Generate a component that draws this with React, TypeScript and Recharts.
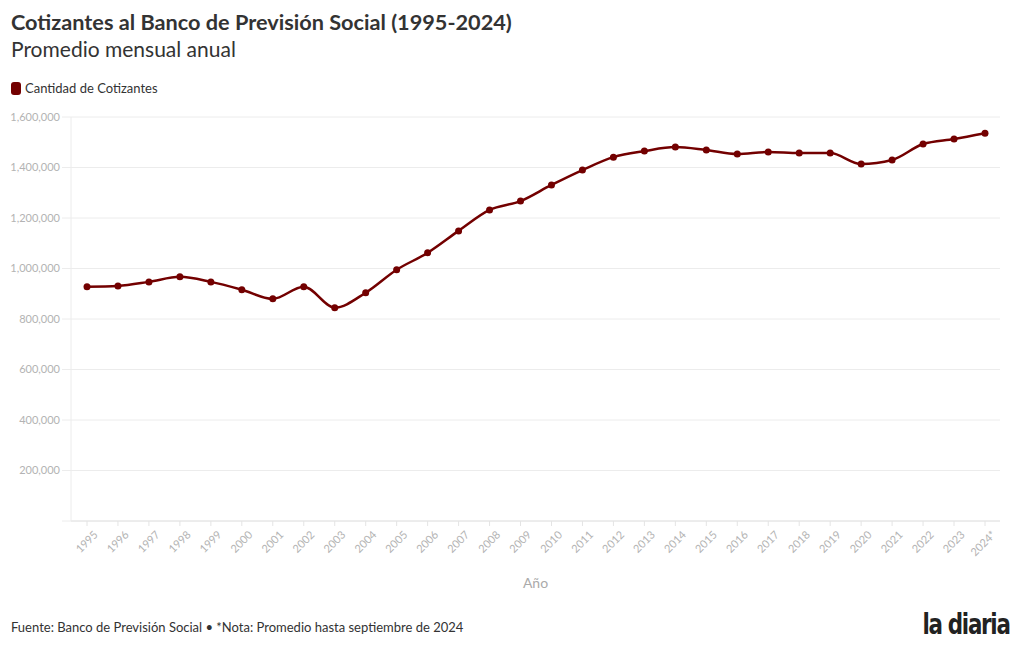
import { LineChart, Line, XAxis, YAxis, CartesianGrid } from 'recharts'

const YEARS = [
  '1995', '1996', '1997', '1998', '1999', '2000', '2001', '2002', '2003', '2004',
  '2005', '2006', '2007', '2008', '2009', '2010', '2011', '2012', '2013', '2014',
  '2015', '2016', '2017', '2018', '2019', '2020', '2021', '2022', '2023', '2024*',
]

// promedio mensual de cotizantes
const COTIZANTES = [
  928000, 931000, 947000, 967000, 947000, 916000, 880000, 928000, 845000, 904000,
  995000, 1062000, 1149000, 1232000, 1267000, 1331000, 1390000, 1441000, 1465000, 1481000,
  1469000, 1453000, 1461000, 1457000, 1457000, 1414000, 1430000, 1493000, 1513000, 1536000,
]

const Y_TICKS = [0, 200000, 400000, 600000, 800000, 1000000, 1200000, 1400000, 1600000]

const RED = '#730000'
const FONT = 'Lato, "Open Sans", sans-serif'

const data = YEARS.map((year, i) => ({ year, cotizantes: COTIZANTES[i] }))

export default function App() {
  return (
    <div
      style={{
        position: 'absolute',
        top: 0,
        left: 0,
        width: 1020,
        height: 650,
        background: '#fff',
        fontFamily: FONT,
        color: '#333',
      }}
    >
      <div style={{ position: 'absolute', left: 11, top: 9, fontSize: 21.7, fontWeight: 700, color: '#333' }}>
        Cotizantes al Banco de Previsión Social (1995-2024)
      </div>
      <div style={{ position: 'absolute', left: 11, top: 36, fontSize: 21, color: '#333' }}>
        Promedio mensual anual
      </div>

      {/* legend */}
      <div style={{ position: 'absolute', left: 11, top: 80, display: 'flex', alignItems: 'center', gap: 4 }}>
        <span style={{ width: 10, height: 13, background: RED, borderRadius: 3, display: 'inline-block' }} />
        <span style={{ fontSize: 13, color: '#333' }}>Cantidad de Cotizantes</span>
      </div>

      <div style={{ position: 'absolute', left: 0, top: 100 }}>
        <LineChart
          width={1020}
          height={500}
          data={data}
          margin={{ top: 17, right: 20, left: 0, bottom: 0 }}
        >
          <CartesianGrid stroke="#ececec" vertical={false} />
          <XAxis
            dataKey="year"
            padding={{ left: 16, right: 15 }}
            interval={0}
            height={79}
            angle={-45}
            textAnchor="end"
            tick={{ fill: '#b3b3b3', fontSize: 11, fontFamily: FONT, dx: 6, dy: 2 }}
            tickSize={5}
            tickLine={{ stroke: '#e4e4e4' }}
            axisLine={{ stroke: '#e4e4e4' }}
            label={{ value: 'Año', position: 'insideBottom', offset: 12, fill: '#aaa', fontSize: 14, fontFamily: FONT }}
          />
          <YAxis
            domain={[0, 1600000]}
            ticks={Y_TICKS}
            width={71}
            tick={{ fill: '#b3b3b3', fontSize: 11, fontFamily: FONT }}
            tickFormatter={(v) => (v === 0 ? '' : Number(v).toLocaleString('en-US'))}
            tickSize={9}
            tickLine={{ stroke: '#ececec' }}
            axisLine={{ stroke: '#ececec' }}
          />
          <Line
            type="monotone"
            dataKey="cotizantes"
            stroke={RED}
            strokeWidth={2.5}
            dot={{ r: 3.5, fill: RED, stroke: RED, strokeWidth: 0 }}
            isAnimationActive={false}
          />
        </LineChart>
      </div>

      <div style={{ position: 'absolute', left: 11, top: 619, fontSize: 13, color: '#333' }}>
        Fuente: Banco de Previsión Social • *Nota: Promedio hasta septiembre de 2024
      </div>
      <div
        style={{
          position: 'absolute',
          right: 10,
          top: 608,
          fontSize: 28,
          fontWeight: 700,
          fontFamily: '"Liberation Sans Narrow", "DejaVu Sans Condensed", sans-serif',
          letterSpacing: -1.5,
          color: '#222',
          transform: 'scaleX(0.85)',
          transformOrigin: 'right center',
        }}
      >
        la diaria
      </div>
    </div>
  )
}
